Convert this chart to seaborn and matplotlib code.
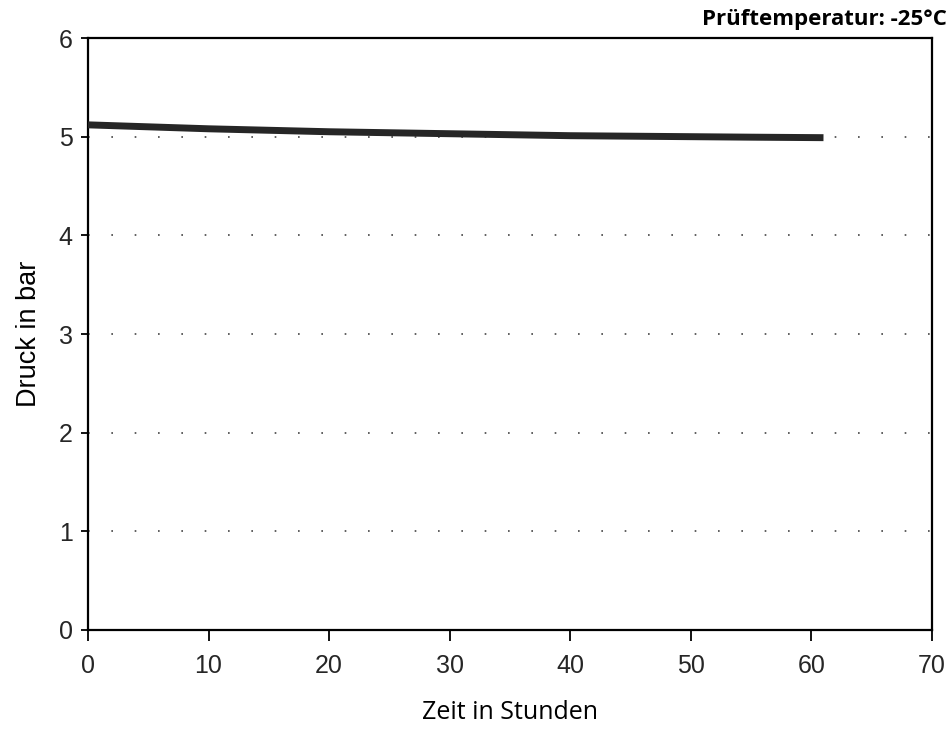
import matplotlib
matplotlib.use("Agg")
import matplotlib.pyplot as plt
import seaborn as sns
import pandas as pd

# Druckverlauf bei -25 °C
zeit_h = [0, 5, 10, 15, 20, 25, 30, 35, 40, 45, 50, 55, 61]
druck_bar = [5.12, 5.10, 5.08, 5.065, 5.05, 5.04, 5.03, 5.02, 5.01, 5.005, 5.0, 4.995, 4.99]

x_ticks = [0, 10, 20, 30, 40, 50, 60, 70]
y_ticks = [0, 1, 2, 3, 4, 5, 6]
grid_levels = [1, 2, 3, 4, 5]

df = pd.DataFrame({"Zeit": zeit_h, "Druck": druck_bar})

sns.set_theme(style="white")
plt.rcParams["font.family"] = ["Liberation Sans", "DejaVu Sans"]

fig = plt.figure(figsize=(9.52, 7.34), dpi=100)
ax = fig.add_axes([0.0924, 0.1417, 0.8866, 0.8065])

# sparse dotted reference lines
for lvl in grid_levels:
    ax.axhline(lvl, color="#444444", lw=1.2, linestyle=(0, (1, 13)), zorder=1)

sns.lineplot(data=df, x="Zeit", y="Druck", ax=ax, color="#262626", lw=5,
             solid_capstyle="butt", zorder=3)

ax.set_xlim(0, 70)
ax.set_ylim(0, 6)
ax.set_xticks(x_ticks)
ax.set_yticks(y_ticks)
ax.tick_params(axis="x", direction="out", length=8, width=1.3, color="black",
               labelsize=18, pad=9, bottom=True)
ax.tick_params(axis="y", direction="out", length=5, width=1.3, color="black",
               labelsize=18, pad=6, left=True)
for s in ax.spines.values():
    s.set_visible(True)
    s.set_color("black")
    s.set_linewidth(1.6)

ax.set_xlabel("Zeit in Stunden", fontsize=18, family=["Open Sans", "DejaVu Sans"],
              labelpad=16, color="black")
ax.set_ylabel("Druck in bar", fontsize=19.5, labelpad=12, color="black")

fig.text(0.995, 0.988, "Prüftemperatur: -25°C", ha="right", va="top",
         fontsize=16, fontweight="bold", family=["Open Sans", "DejaVu Sans"],
         color="black")

fig.savefig("out.png", dpi=100, facecolor="white")
